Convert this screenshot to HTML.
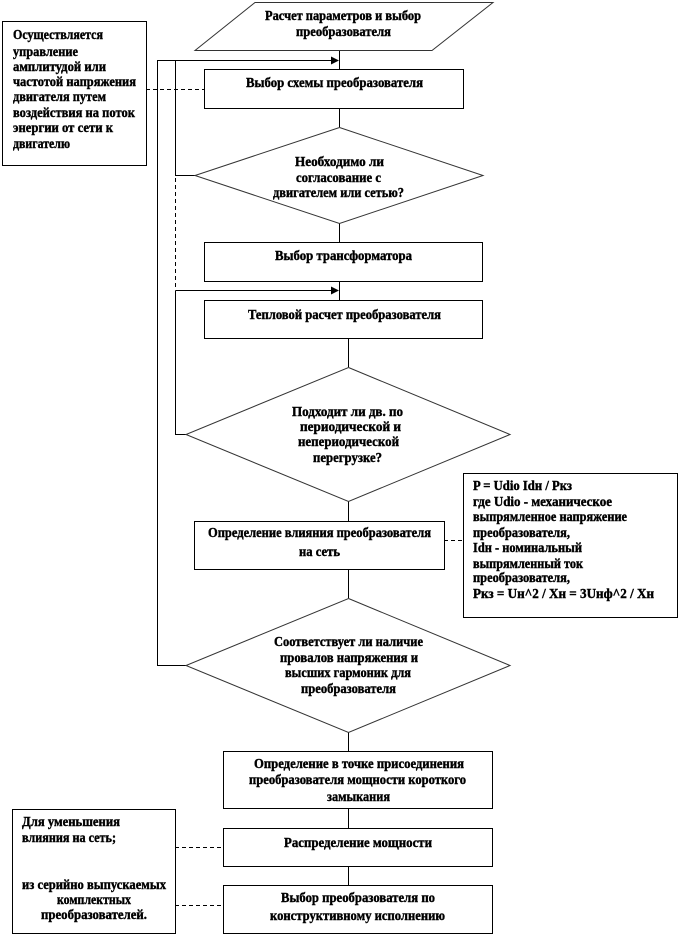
<!DOCTYPE html>
<html lang="ru"><head><meta charset="utf-8"><title>Блок-схема</title>
<style>
html,body{margin:0;padding:0;background:#fff}
svg{display:block}
text{font-family:"Liberation Serif","Noto Serif CJK SC",serif;font-size:13.5px;font-weight:bold;fill:#000;stroke:#000;stroke-width:.4;filter:blur(.25px)}
.s{fill:#fff;stroke:#000;stroke-width:1}
.g{fill:#fff;stroke:#333;stroke-width:1}
.l{fill:none;stroke:#000;stroke-width:1}
.d{fill:none;stroke:#000;stroke-width:1;stroke-dasharray:4 3}
</style></head><body>
<svg width="678" height="937" viewBox="0 0 678 937" xmlns="http://www.w3.org/2000/svg">
<rect width="678" height="937" fill="#fff"/>
<path class="l" d="M339.500 50V69M339.500 108V127M339.500 223V242M339.500 281V300M348.500 338V367M348.500 501V521M348.500 569V598M348.500 732V751M348.500 808V828M348.500 866V885"/>
<path class="l" d="M186 665.500H157.500V60.500H331M195 175.500H175.500V60.500M175.500 290.500V434.500H187M175.500 290.500H331"/>
<path d="M331 56.500L339 60.500L331 64.500ZM331 286.500L339 290.500L331 294.500Z" fill="#000"/>
<path class="d" d="M175.500 178V290M146 89.500H204M444 540.500H463M175 847.500H223M175 905.500H223"/>
<polygon class="g" points="255,2.500 493,2.500 432,50.500 195,50.500"/>
<polygon class="g" points="339.500,127.500 483,175.500 339.500,223.500 195,175.500"/>
<polygon class="g" points="348.500,367.500 510,434.500 348.500,501.500 186,434.500"/>
<polygon class="g" points="348.500,598.500 510,665.500 348.500,732.500 186,665.500"/>
<rect class="s" x="204.500" y="69.500" width="259" height="39"/>
<rect class="s" x="204.500" y="242.500" width="278" height="39"/>
<rect class="s" x="204.500" y="300.500" width="278" height="38"/>
<rect class="s" x="194.500" y="521.500" width="250" height="48"/>
<rect class="s" x="223.500" y="751.500" width="269" height="57"/>
<rect class="s" x="223.500" y="828.500" width="269" height="38"/>
<rect class="s" x="223.500" y="885.500" width="269" height="48"/>
<rect class="s" x="2.500" y="21.500" width="144" height="144"/>
<rect class="s" x="463.500" y="473.500" width="214" height="144"/>
<rect class="s" x="12.500" y="809.500" width="163" height="124"/>
<text lengthAdjust="spacingAndGlyphs" x="13" y="39" textLength="90">Осуществляется</text>
<text lengthAdjust="spacingAndGlyphs" x="13" y="56" textLength="65">управление</text>
<text lengthAdjust="spacingAndGlyphs" x="13" y="71" textLength="93">амплитудой или</text>
<text lengthAdjust="spacingAndGlyphs" x="13" y="86" textLength="123">частотой напряжения</text>
<text lengthAdjust="spacingAndGlyphs" x="13" y="101" textLength="93">двигателя путем</text>
<text lengthAdjust="spacingAndGlyphs" x="13" y="117" textLength="122">воздействия на поток</text>
<text lengthAdjust="spacingAndGlyphs" x="13" y="132" textLength="100">энергии от сети к</text>
<text lengthAdjust="spacingAndGlyphs" x="13" y="148" textLength="57">двигателю</text>
<text lengthAdjust="spacingAndGlyphs" x="265" y="20" textLength="156">Расчет параметров и выбор</text>
<text lengthAdjust="spacingAndGlyphs" x="296" y="36" textLength="95">преобразователя</text>
<text lengthAdjust="spacingAndGlyphs" x="246" y="87" textLength="177">Выбор схемы преобразователя</text>
<text lengthAdjust="spacingAndGlyphs" x="295" y="166" textLength="89">Необходимо ли</text>
<text lengthAdjust="spacingAndGlyphs" x="296" y="182" textLength="85">согласование с</text>
<text lengthAdjust="spacingAndGlyphs" x="273" y="197" textLength="131">двигателем или сетью?</text>
<text lengthAdjust="spacingAndGlyphs" x="275" y="260" textLength="137">Выбор трансформатора</text>
<text lengthAdjust="spacingAndGlyphs" x="248" y="319" textLength="193">Тепловой расчет преобразователя</text>
<text lengthAdjust="spacingAndGlyphs" x="292" y="416" textLength="111">Подходит ли дв. по</text>
<text lengthAdjust="spacingAndGlyphs" x="300" y="431" textLength="101">периодической и</text>
<text lengthAdjust="spacingAndGlyphs" x="298" y="446" textLength="101">непериодической</text>
<text lengthAdjust="spacingAndGlyphs" x="313" y="462" textLength="69">перегрузке?</text>
<text lengthAdjust="spacingAndGlyphs" x="208" y="537" textLength="223">Определение влияния преобразователя</text>
<text lengthAdjust="spacingAndGlyphs" x="299" y="556" textLength="41">на сеть</text>
<text lengthAdjust="spacingAndGlyphs" x="473" y="490" textLength="99">P = Udio Idн / Pкз</text>
<text lengthAdjust="spacingAndGlyphs" x="473" y="506" textLength="139">где Udio - механическое</text>
<text lengthAdjust="spacingAndGlyphs" x="473" y="521" textLength="154">выпрямленное напряжение</text>
<text lengthAdjust="spacingAndGlyphs" x="473" y="537" textLength="97">преобразователя,</text>
<text lengthAdjust="spacingAndGlyphs" x="473" y="552" textLength="109">Idн - номинальный</text>
<text lengthAdjust="spacingAndGlyphs" x="473" y="568" textLength="110">выпрямленный ток</text>
<text lengthAdjust="spacingAndGlyphs" x="473" y="582" textLength="97">преобразователя,</text>
<text lengthAdjust="spacingAndGlyphs" x="473" y="598" textLength="181">Pкз = Uн^2 / Xн = 3Uнф^2 / Xн</text>
<text lengthAdjust="spacingAndGlyphs" x="274" y="646" textLength="149">Соответствует ли наличие</text>
<text lengthAdjust="spacingAndGlyphs" x="280" y="662" textLength="138">провалов напряжения и</text>
<text lengthAdjust="spacingAndGlyphs" x="285" y="677" textLength="126">высших гармоник для</text>
<text lengthAdjust="spacingAndGlyphs" x="301" y="693" textLength="95">преобразователя</text>
<text lengthAdjust="spacingAndGlyphs" x="254" y="768" textLength="210">Определение в точке присоединения</text>
<text lengthAdjust="spacingAndGlyphs" x="249" y="784" textLength="217">преобразователя мощности короткого</text>
<text lengthAdjust="spacingAndGlyphs" x="327" y="801" textLength="63">замыкания</text>
<text lengthAdjust="spacingAndGlyphs" x="284" y="847" textLength="148">Распределение мощности</text>
<text lengthAdjust="spacingAndGlyphs" x="281" y="902" textLength="154">Выбор преобразователя по</text>
<text lengthAdjust="spacingAndGlyphs" x="270" y="920" textLength="175">конструктивному исполнению</text>
<text lengthAdjust="spacingAndGlyphs" x="22" y="826" textLength="98">Для уменьшения</text>
<text lengthAdjust="spacingAndGlyphs" x="22" y="842" textLength="94">влияния на сеть;</text>
<text lengthAdjust="spacingAndGlyphs" x="22" y="889" textLength="144">из серийно выпускаемых</text>
<text lengthAdjust="spacingAndGlyphs" x="57" y="904" textLength="74">комплектных</text>
<text lengthAdjust="spacingAndGlyphs" x="41" y="919" textLength="106">преобразователей.</text>
</svg>
</body></html>
